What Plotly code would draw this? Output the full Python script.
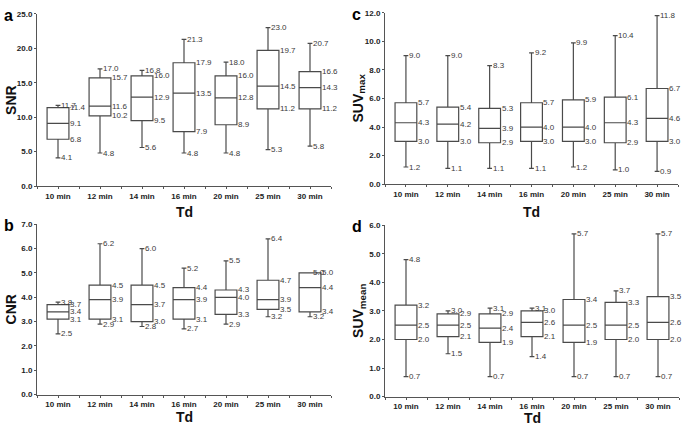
import plotly.graph_objects as go

W, H = 685, 429

categories = ["10 min", "12 min", "14 min", "16 min", "20 min", "25 min", "30 min"]

# SNR (panel a)
snr_low = [4.1, 4.8, 5.6, 4.8, 4.8, 5.3, 5.8]
snr_q1 = [6.8, 10.2, 9.5, 7.9, 8.9, 11.2, 11.2]
snr_med = [9.1, 11.6, 12.9, 13.5, 12.8, 14.5, 14.3]
snr_q3 = [11.4, 15.7, 16.0, 17.9, 16.0, 19.7, 16.6]
snr_high = [11.7, 17.0, 16.8, 21.3, 18.0, 23.0, 20.7]

# CNR (panel b)
cnr_low = [2.5, 2.9, 2.8, 2.7, 2.9, 3.2, 3.2]
cnr_q1 = [3.1, 3.1, 3.0, 3.1, 3.3, 3.5, 3.4]
cnr_med = [3.4, 3.9, 3.7, 3.9, 4.0, 3.9, 4.4]
cnr_q3 = [3.7, 4.5, 4.5, 4.4, 4.3, 4.7, 5.0]
cnr_high = [3.8, 6.2, 6.0, 5.2, 5.5, 6.4, 5.0]

# SUVmax (panel c)
suvmax_low = [1.2, 1.1, 1.1, 1.1, 1.2, 1.0, 0.9]
suvmax_q1 = [3.0, 3.0, 2.9, 3.0, 3.0, 2.9, 3.0]
suvmax_med = [4.3, 4.2, 3.9, 4.0, 4.0, 4.3, 4.6]
suvmax_q3 = [5.7, 5.4, 5.3, 5.7, 5.9, 6.1, 6.7]
suvmax_high = [9.0, 9.0, 8.3, 9.2, 9.9, 10.4, 11.8]

# SUVmean (panel d)
suvmean_low = [0.7, 1.5, 0.7, 1.4, 0.7, 0.7, 0.7]
suvmean_q1 = [2.0, 2.1, 1.9, 2.1, 1.9, 2.0, 2.0]
suvmean_med = [2.5, 2.5, 2.4, 2.6, 2.5, 2.5, 2.6]
suvmean_q3 = [3.2, 2.9, 2.9, 3.0, 3.4, 3.3, 3.5]
suvmean_high = [4.8, 3.0, 3.1, 3.1, 5.7, 3.7, 5.7]

panels = [
    dict(letter="a", ytitle="SNR", data=(snr_low, snr_q1, snr_med, snr_q3, snr_high),
         ymax=25, dtick=5, xpx=(37, 331), ypx=(10, 186), ax="", tdoff=26),
    dict(letter="c", ytitle="SUV<sub>max</sub>", data=(suvmax_low, suvmax_q1, suvmax_med, suvmax_q3, suvmax_high),
         ymax=12, dtick=2, xpx=(385, 678), ypx=(9, 184), ax="2", tdoff=28),
    dict(letter="b", ytitle="CNR", data=(cnr_low, cnr_q1, cnr_med, cnr_q3, cnr_high),
         ymax=7, dtick=1, xpx=(37, 331), ypx=(225, 399), ax="3", tdoff=23),
    dict(letter="d", ytitle="SUV<sub>mean</sub>", data=(suvmean_low, suvmean_q1, suvmean_med, suvmean_q3, suvmean_high),
         ymax=6, dtick=1, xpx=(385, 679), ypx=(226, 401), ax="4", tdoff=22),
]

fig = go.Figure()
line_col = "#4a4a4a"
txt_col = "#3a3a3a"
BOXW = 0.52
positions = list(range(len(categories)))

tickvals = []
ticktext = []
for i, c in enumerate(categories):
    tickvals += [i - 0.5, i]
    ticktext += ["", c]
tickvals.append(len(categories) - 0.5)
ticktext.append("")

annotations = []
for p in panels:
    low, q1, med, q3, high = p["data"]
    xa = "x" + p["ax"]
    ya = "y" + p["ax"]
    fig.add_trace(go.Box(
        x=positions, lowerfence=low, q1=q1, median=med, q3=q3, upperfence=high,
        xaxis=xa, yaxis=ya, width=BOXW, whiskerwidth=0.22,
        fillcolor="white", line=dict(color=line_col, width=1.2),
        boxpoints=False, showlegend=False, hoverinfo="skip",
    ))
    for i in positions:
        for v in (q1[i], med[i], q3[i]):
            annotations.append(dict(x=i + BOXW / 2, y=v, xref=xa, yref=ya, text=f"{v:.1f}",
                                    showarrow=False, xanchor="left", yanchor="middle", xshift=-1,
                                    font=dict(size=8, color=txt_col, family="Liberation Sans")))
        for v in (low[i], high[i]):
            annotations.append(dict(x=i, y=v, xref=xa, yref=ya, text=f"{v:.1f}",
                                    showarrow=False, xanchor="left", yanchor="middle", xshift=1,
                                    font=dict(size=8, color=txt_col, family="Liberation Sans")))
    x0, x1 = p["xpx"]
    yt, yb = p["ypx"]
    xdom = [x0 / W, x1 / W]
    ydom = [(H - yb) / H, (H - yt) / H]
    axkey = "xaxis" + p["ax"]
    aykey = "yaxis" + p["ax"]
    fig.layout[axkey] = dict(
        domain=xdom, range=[-0.5, len(categories) - 0.5], anchor=ya,
        tickmode="array", tickvals=tickvals, ticktext=ticktext,
        ticks="outside", ticklen=2, tickcolor="#555", showline=True, linecolor="#555", linewidth=1,
        showgrid=False, zeroline=False, fixedrange=True,
        tickfont=dict(size=8, family="Liberation Sans", color="#222", weight="bold"),
    )
    fig.layout[aykey] = dict(
        domain=ydom, range=[0, p["ymax"]], anchor=xa,
        tickmode="linear", tick0=0, dtick=p["dtick"], tickformat=".1f",
        ticks="outside", ticklen=2, tickcolor="#555", showline=True, linecolor="#555", linewidth=1,
        showgrid=False, zeroline=False, fixedrange=True,
        tickfont=dict(size=8, family="Liberation Sans", color="#222", weight="bold"),
    )
    annotations.append(dict(x=(x0 - 35) / W, y=(H - yt + 9) / H, xref="paper", yref="paper",
                            text=f"<b>{p['letter']}</b>", showarrow=False, xanchor="left", yanchor="top",
                            font=dict(size=16, family="Liberation Sans", color="#000")))
    annotations.append(dict(x=(x0 - 26) / W, y=(H - (yt + yb) / 2) / H, xref="paper", yref="paper",
                            text=f"<b>{p['ytitle']}</b>", showarrow=False, textangle=-90,
                            xanchor="center", yanchor="middle",
                            font=dict(size=14, family="Liberation Sans", color="#111")))
    annotations.append(dict(x=((x0 + x1) / 2) / W, y=(H - (yb + p["tdoff"])) / H, xref="paper", yref="paper",
                            text="<b>Td</b>", showarrow=False, xanchor="center", yanchor="middle",
                            font=dict(size=14, family="Liberation Sans", color="#111")))

fig.update_layout(
    width=W, height=H, margin=dict(l=0, r=0, t=0, b=0),
    paper_bgcolor="white", plot_bgcolor="white",
    annotations=annotations, showlegend=False,
)

fig.write_html("out.html", config={"displayModeBar": False},
               post_script="document.body.style.margin='0';document.body.style.overflow='hidden';")
